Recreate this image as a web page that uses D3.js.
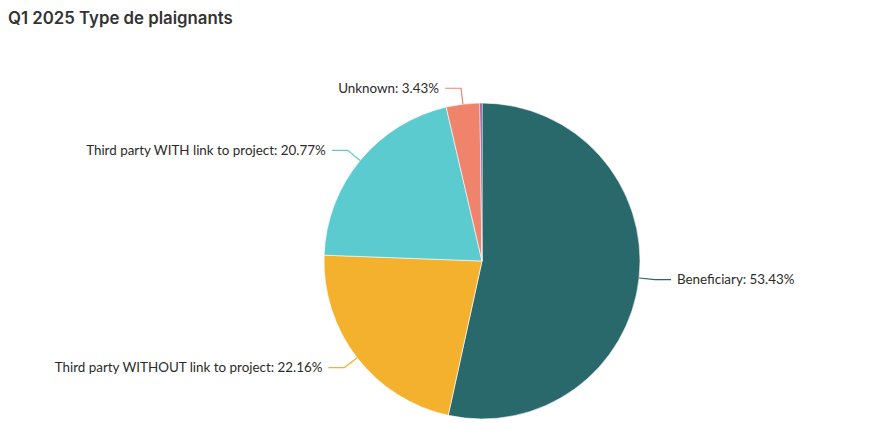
<!DOCTYPE html>
<html><head><meta charset="utf-8">
<script src="https://cdn.jsdelivr.net/npm/d3@7/dist/d3.min.js"></script>
<style>
html,body{margin:0;padding:0;background:#fff;}
svg{display:block;}
</style></head>
<body>
<svg id="chart" width="870" height="434"></svg>
<script>
const title = "Q1 2025 Type de plaignants";
const categories = ["Beneficiary", "Third party WITHOUT link to project", "Third party WITH link to project", "Unknown", "Other"];
const values = [53.43, 22.16, 20.77, 3.43, 0.21];
const colors = ["#29696b", "#f4b12e", "#5ccbcf", "#f0836b", "#7d3c8e"];
const showLabel = [true, true, true, true, false];

const svg = d3.select("#chart");
const W = 870, H = 434;
const cx = 482, cy = 261, R = 158;

svg.append("text").attr("x", 8).attr("y", 24)
  .attr("font-family", "Inter, 'Open Sans', sans-serif")
  .attr("font-weight", 600).attr("font-size", 16.8).attr("fill", "#333")
  .text(title);

const data = categories.map((c, i) => ({name: c, value: values[i], color: colors[i], show: showLabel[i]}));
const pie = d3.pie().value(d => d.value).sort(null);
const arcs = pie(data);
const arc = d3.arc().innerRadius(0).outerRadius(R);

const g = svg.append("g").attr("transform", `translate(${cx},${cy})`);
g.selectAll("path").data(arcs).join("path")
  .attr("d", arc).attr("fill", d => d.data.color)
  .attr("stroke", "#fff").attr("stroke-width", 0.6);

const len1 = 16, len2 = 16;
arcs.filter(a => a.data.show).forEach(a => {
  const m = (a.startAngle + a.endAngle) / 2;
  const sx = Math.sin(m), sy = -Math.cos(m);
  const p0 = [R * sx, R * sy];
  const p1 = [(R + len1) * sx, (R + len1) * sy];
  const right = sx >= 0;
  const p2 = [p1[0] + (right ? len2 : -len2), p1[1]];
  g.append("polyline")
    .attr("points", [p0, p1, p2].map(p => p.join(",")).join(" "))
    .attr("fill", "none").attr("stroke", a.data.color).attr("stroke-width", 1.2);
  g.append("text")
    .attr("x", p2[0] + (right ? 6 : -6)).attr("y", p2[1])
    .attr("dy", "0.35em")
    .attr("text-anchor", right ? "start" : "end")
    .attr("font-family", "Lato, 'Open Sans', sans-serif")
    .attr("font-size", 13.4).attr("fill", "#2b2b2b")
    .text(`${a.data.name}: ${a.data.value.toFixed(2)}%`);
});
</script>
</body></html>
